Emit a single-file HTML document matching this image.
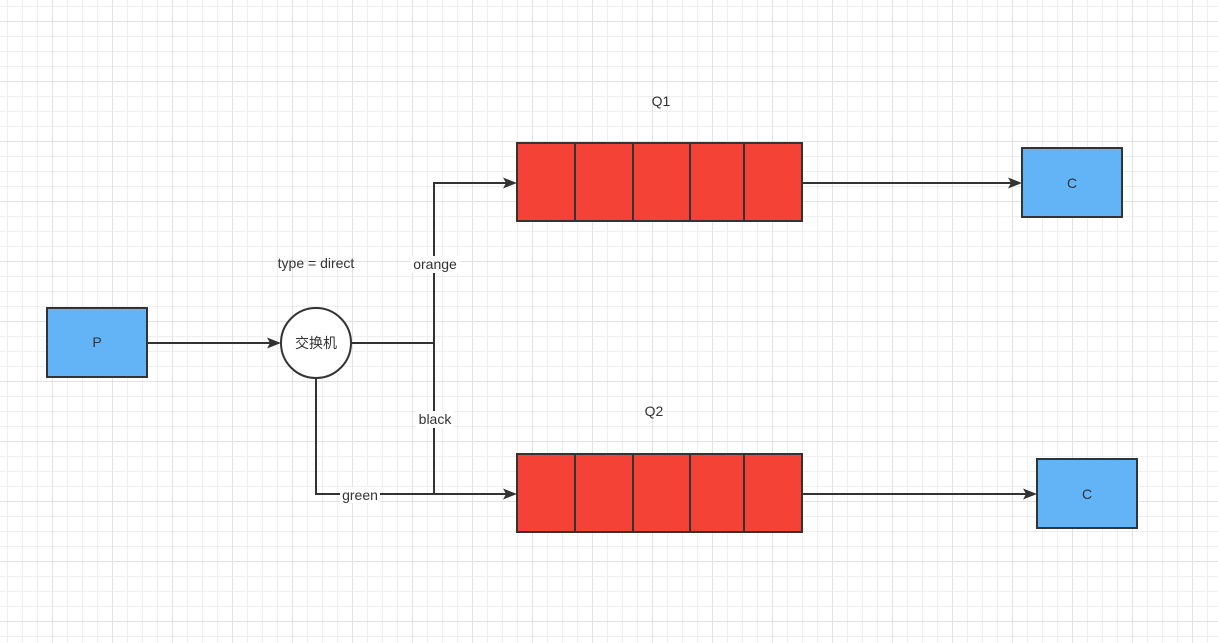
<!DOCTYPE html>
<html><head><meta charset="utf-8"><style>
html,body{margin:0;padding:0;background:#fff}
svg{display:block}
text{font-family:"Liberation Sans","Noto Sans CJK SC",sans-serif;font-size:14px;fill:#333}
</style></head><body>
<svg width="1218" height="643" viewBox="0 0 1218 643" xmlns="http://www.w3.org/2000/svg">
<defs>
<pattern id="g" x="7" y="6" width="15" height="15" patternUnits="userSpaceOnUse">
<path d="M0.5 0V15M0 0.5H15" stroke="#efefef" stroke-width="1" fill="none"/>
</pattern>
<pattern id="G" x="52" y="21" width="60" height="60" patternUnits="userSpaceOnUse">
<path d="M0.5 0V60M0 0.5H60" stroke="#e2e2e2" stroke-width="1" fill="none"/>
</pattern>
</defs>
<rect width="1218" height="643" fill="url(#g)"/>
<rect width="1218" height="643" fill="url(#G)"/>
<g stroke="#333" stroke-width="2" fill="none">
<path d="M147 343H270"/>
<path d="M352 343H434"/>
<path d="M434 494V183H506"/>
<path d="M316 378V494H506"/>
<path d="M802 183H1011"/>
<path d="M802 494H1026"/>
</g>
<g fill="#333">
<path d="M281 343L267 337.5L270 343L267 348.5Z"/>
<path d="M517 183L503 177.5L506 183L503 188.5Z"/>
<path d="M517 494L503 488.5L506 494L503 499.5Z"/>
<path d="M1022 183L1008 177.5L1011 183L1008 188.5Z"/>
<path d="M1037 494L1023 488.5L1026 494L1023 499.5Z"/>
</g>
<g stroke="#333" stroke-width="2">
<rect x="47" y="308" width="100" height="69" fill="#63b3f7"/>
<rect x="1022" y="148" width="100" height="69" fill="#63b3f7"/>
<rect x="1037" y="459" width="100" height="69" fill="#63b3f7"/>
<rect x="517" y="143" width="285" height="78" fill="#f44336"/>
<rect x="517" y="454" width="285" height="78" fill="#f44336"/>
<path d="M575 143V221M633 143V221M690 143V221M744 143V221M575 454V532M633 454V532M690 454V532M744 454V532"/>
<circle cx="316" cy="343" r="35" fill="#fff"/>
</g>
<rect x="410" y="256" width="50" height="17" fill="#fff"/>
<rect x="416" y="411" width="38" height="17" fill="#fff"/>
<rect x="340" y="487" width="40" height="16" fill="#fff"/>
<text x="97" y="347" text-anchor="middle">P</text>
<text x="1072" y="188" text-anchor="middle">C</text>
<text x="1087" y="499" text-anchor="middle">C</text>
<text x="316" y="348" text-anchor="middle">交换机</text>
<text x="316" y="268" text-anchor="middle">type = direct</text>
<text x="435" y="269" text-anchor="middle">orange</text>
<text x="435" y="424" text-anchor="middle">black</text>
<text x="360" y="500" text-anchor="middle">green</text>
<text x="661" y="106" text-anchor="middle">Q1</text>
<text x="654" y="416" text-anchor="middle">Q2</text>
</svg>
</body></html>
